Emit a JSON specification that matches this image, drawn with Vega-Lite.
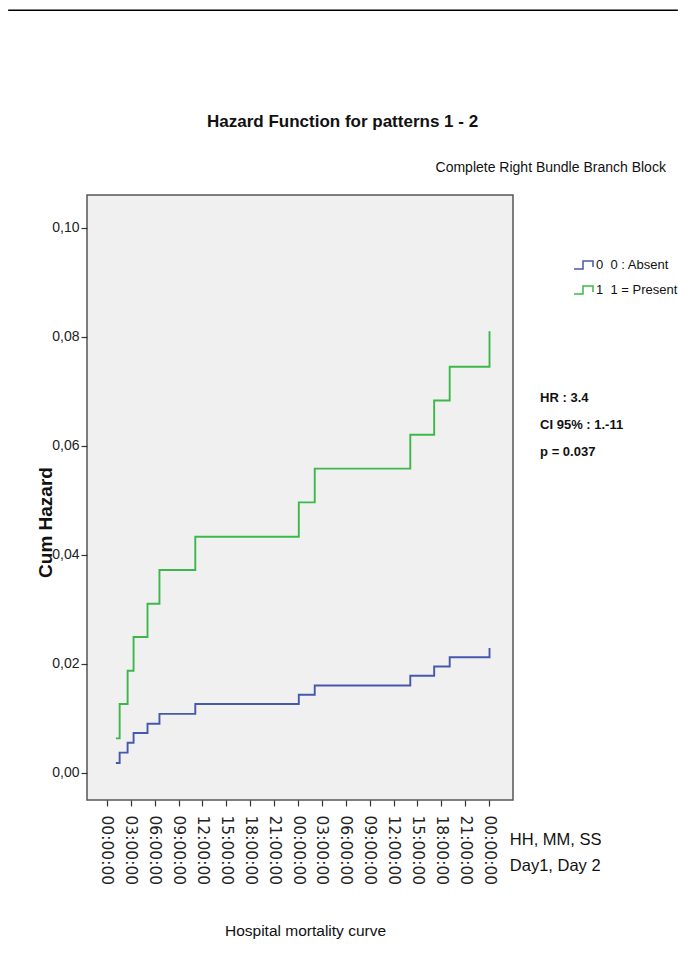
{
  "$schema": "https://vega.github.io/schema/vega-lite/v6.json",
  "width": 426,
  "height": 605,
  "autosize": {"type": "none"},
  "padding": {"left": 87, "top": 195, "right": 165, "bottom": 175},
  "background": "white",
  "config": {
    "font": "Liberation Sans",
    "view": {"fill": "#f0f0f0", "stroke": "#555555", "strokeWidth": 1.5},
    "axis": {"labelOverlap": false},
    "axisX": {"labelOverlap": false, "tickCount": 17}
  },
  "title": {
    "text": "Hazard Function for patterns 1 - 2",
    "anchor": "start",
    "frame": "group",
    "dx": 120,
    "offset": -122,
    "fontSize": 17,
    "fontWeight": "bold",
    "color": "#111111"
  },
  "datasets": {
    "curves": [
      {"hours": 1.13, "hazard": 0.0063, "group": "1"},
      {"hours": 1.6, "hazard": 0.0126, "group": "1"},
      {"hours": 2.6, "hazard": 0.0187, "group": "1"},
      {"hours": 3.35, "hazard": 0.0249, "group": "1"},
      {"hours": 5.1, "hazard": 0.031, "group": "1"},
      {"hours": 6.6, "hazard": 0.0372, "group": "1"},
      {"hours": 11.1, "hazard": 0.0433, "group": "1"},
      {"hours": 24.1, "hazard": 0.0496, "group": "1"},
      {"hours": 26.1, "hazard": 0.0558, "group": "1"},
      {"hours": 38.1, "hazard": 0.062, "group": "1"},
      {"hours": 41.1, "hazard": 0.0683, "group": "1"},
      {"hours": 43.05, "hazard": 0.0745, "group": "1"},
      {"hours": 48.05, "hazard": 0.081, "group": "1"},
      {"hours": 1.13, "hazard": 0.0018, "group": "0"},
      {"hours": 1.6, "hazard": 0.0037, "group": "0"},
      {"hours": 2.6, "hazard": 0.0055, "group": "0"},
      {"hours": 3.35, "hazard": 0.0073, "group": "0"},
      {"hours": 5.1, "hazard": 0.009, "group": "0"},
      {"hours": 6.6, "hazard": 0.0108, "group": "0"},
      {"hours": 11.1, "hazard": 0.0126, "group": "0"},
      {"hours": 24.1, "hazard": 0.0143, "group": "0"},
      {"hours": 26.1, "hazard": 0.016, "group": "0"},
      {"hours": 38.1, "hazard": 0.0178, "group": "0"},
      {"hours": 41.1, "hazard": 0.0195, "group": "0"},
      {"hours": 43.05, "hazard": 0.0212, "group": "0"},
      {"hours": 48.05, "hazard": 0.0229, "group": "0"}
    ]
  },
  "layer": [
    {
      "data": {"name": "curves"},
      "mark": {"type": "line", "interpolate": "step-after", "strokeWidth": 1.9},
      "encoding": {
        "x": {
          "field": "hours",
          "type": "quantitative",
          "scale": {"domain": [-2.5, 51], "nice": false, "zero": false},
          "axis": {
            "values": [0, 3, 6, 9, 12, 15, 18, 21, 24, 27, 30, 33, 36, 39, 42, 45, 48],
            "tickCount": 17,
            "labelExpr": "format(datum.value % 24, '02d') + ':00:00'",
            "labelAngle": 90,
            "labelFont": "DejaVu Sans",
            "labelFontSize": 15.5,
            "labelColor": "#222222",
            "labelPadding": 9,
            "labelOverlap": false,
            "labelFlush": false,
            "labelBound": false,
            "tickSize": 6,
            "tickColor": "#333333",
            "tickWidth": 1.2,
            "domain": false,
            "grid": false,
            "title": "Hospital mortality curve",
            "titleFontSize": 15.5,
            "titleFontWeight": "normal",
            "titleColor": "#111111",
            "titleX": 218,
            "titleY": 130,
            "titleAlign": "center",
            "titleBaseline": "middle"
          }
        },
        "y": {
          "field": "hazard",
          "type": "quantitative",
          "scale": {"domain": [-0.005, 0.106], "nice": false, "zero": false},
          "axis": {
            "values": [0, 0.02, 0.04, 0.06, 0.08, 0.1],
            "labelExpr": "replace(format(datum.value, '.2f'), '.', ',')",
            "labelFontSize": 14,
            "labelColor": "#222222",
            "labelPadding": 2,
            "tickSize": 6,
            "tickColor": "#333333",
            "tickWidth": 1.2,
            "domain": false,
            "grid": false,
            "title": "Cum Hazard",
            "titleFontSize": 19,
            "titleFontWeight": "bold",
            "titleColor": "#111111",
            "titleAngle": -90,
            "titleX": -42,
            "titleY": 327,
            "titleAlign": "center",
            "titleBaseline": "middle"
          }
        },
        "color": {
          "field": "group",
          "type": "nominal",
          "scale": {"domain": ["0", "1"], "range": ["#4458ac", "#3cb84a"]},
          "legend": {
            "orient": "none",
            "legendX": 486,
            "legendY": 59,
            "title": null,
            "padding": 0,
            "symbolType": "M-1,0.4H-0.1V-0.4H0.9V0.2",
            "symbolSize": 400,
            "symbolStrokeWidth": 1.5,
            "symbolFillColor": "transparent",
            "labelExpr": "datum.label == '0' ? '0\u00a0\u00a00 : Absent' : '1\u00a0\u00a01 = Present'",
            "labelFontSize": 13,
            "labelColor": "#111111",
            "labelOffset": 1,
            "labelLimit": 0,
            "rowPadding": 7
          }
        }
      }
    },
    {
      "data": {"values": [{"note": "stats"}]},
      "mark": {
        "type": "text",
        "text": ["HR : 3.4", "CI 95% : 1.-11", "p = 0.037"],
        "align": "left",
        "baseline": "top",
        "lineHeight": 27,
        "fontSize": 13,
        "fontWeight": "bold",
        "color": "#111111"
      },
      "encoding": {
        "x": {"datum": 54.4, "type": "quantitative"},
        "y": {"datum": 0.0699, "type": "quantitative"}
      }
    },
    {
      "data": {"values": [{"note": "units"}]},
      "mark": {
        "type": "text",
        "text": ["HH, MM, SS", "Day1, Day 2"],
        "align": "left",
        "baseline": "top",
        "lineHeight": 26,
        "fontSize": 16.5,
        "color": "#111111"
      },
      "encoding": {
        "x": {"datum": 50.6, "type": "quantitative"},
        "y": {"datum": -0.0109, "type": "quantitative"}
      }
    },
    {
      "data": {"values": [{"note": "subtitle"}]},
      "mark": {
        "type": "text",
        "text": "Complete Right Bundle Branch Block",
        "align": "right",
        "baseline": "middle",
        "fontSize": 14,
        "color": "#111111"
      },
      "encoding": {
        "x": {"datum": 70.2, "type": "quantitative"},
        "y": {"datum": 0.111, "type": "quantitative"}
      }
    },
    {
      "data": {"values": [{"note": "page rule"}]},
      "mark": {"type": "rule", "color": "#000000", "strokeWidth": 1.5},
      "encoding": {
        "x": {"datum": -12.4, "type": "quantitative"},
        "x2": {"datum": 71.7},
        "y": {"datum": 0.1399, "type": "quantitative"}
      }
    }
  ]
}
